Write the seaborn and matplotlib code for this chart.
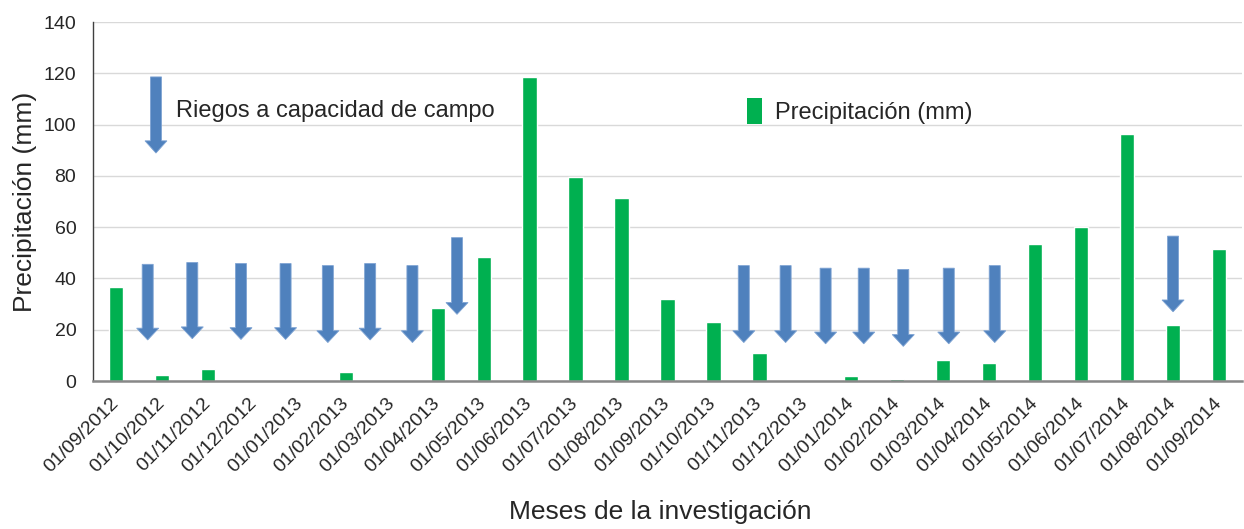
import numpy as np
import pandas as pd
import matplotlib
matplotlib.use("Agg")
import matplotlib.pyplot as plt
from matplotlib.patches import FancyArrow, Rectangle
import seaborn as sns

# ---------------- data ----------------
meses = ["01/09/2012", "01/10/2012", "01/11/2012", "01/12/2012", "01/01/2013",
         "01/02/2013", "01/03/2013", "01/04/2013", "01/05/2013", "01/06/2013",
         "01/07/2013", "01/08/2013", "01/09/2013", "01/10/2013", "01/11/2013",
         "01/12/2013", "01/01/2014", "01/02/2014", "01/03/2014", "01/04/2014",
         "01/05/2014", "01/06/2014", "01/07/2014", "01/08/2014", "01/09/2014"]
precipitacion = [36.6, 2.3, 4.7, 0.0, 0.0,
                 3.6, 0.0, 28.5, 48.3, 118.5,
                 79.5, 71.3, 32.0, 23.2, 10.8,
                 0.0, 2.0, 0.6, 8.2, 7.0,
                 53.4, 60.0, 96.3, 21.8, 51.5]

# irrigation events (position on the month axis, start and end level in mm)
riego_pos = [0.69, 1.66, 2.72, 3.69, 4.61, 5.53, 6.45, 7.42,
             13.66, 14.57, 15.44, 16.27, 17.13, 18.12, 19.12, 23.0]
riego_inicio = [45.5, 46.2, 45.8, 45.8, 45.0, 45.8, 45.0, 55.9,
                45.0, 45.0, 44.0, 44.0, 43.5, 44.0, 45.0, 56.5]
riego_fin = [16.0, 16.5, 16.2, 16.2, 15.0, 16.0, 15.0, 26.0,
             15.0, 15.0, 14.5, 14.5, 13.5, 14.5, 15.0, 27.0]

y_ticks = [0, 20, 40, 60, 80, 100, 120, 140]

# ---------------- style ----------------
sns.set_style("white")
plt.rcParams["font.family"] = ["Liberation Sans", "DejaVu Sans"]

GREEN = "#00b050"
BLUE = "#4f81bd"

W, H = 1244, 529
fig = plt.figure(figsize=(W / 100, H / 100), dpi=100)
ax = fig.add_axes([93 / W, 1 - 381 / H, 1149 / W, 359 / H])

df = pd.DataFrame({"mes": meses, "precip": precipitacion})
sns.barplot(data=df, x="mes", y="precip", color=GREEN, saturation=1,
            width=0.31, errorbar=None, ax=ax, zorder=2)

ax.set_xlim(-0.5, len(meses) - 0.5)
ax.set_ylim(0, 140)
ax.set_yticks(y_ticks)
ax.yaxis.grid(True, color="#d9d9d9", lw=1)
ax.set_axisbelow(True)

# category boundary ticks (Excel style)
ax.set_xticks(np.arange(-0.5, len(meses), 1), minor=True)
ax.tick_params(axis="x", which="minor", length=5, width=1.2, color="#808080", direction="out")
ax.tick_params(axis="x", which="major", length=0, pad=14, labelsize=14)
ax.set_xticks(range(len(meses)))
ax.set_xticklabels(meses, rotation=45, ha="right", va="center", rotation_mode="anchor")
ax.tick_params(axis="y", length=0, pad=12, labelsize=14)

for s in ["top", "right"]:
    ax.spines[s].set_visible(False)
ax.spines["left"].set_color("#404040")
ax.spines["left"].set_linewidth(1)
ax.spines["bottom"].set_color("#888888")
ax.spines["bottom"].set_linewidth(1.8)

ax.set_ylabel("Precipitación (mm)", fontsize=19, labelpad=5)
ax.set_xlabel("")
fig.text(660 / W, 1 - 519 / H, "Meses de la investigación", fontsize=19,
         ha="center", va="baseline")

# irrigation arrows
for x, top, tip in zip(riego_pos, riego_inicio, riego_fin):
    ax.add_patch(FancyArrow(x, top, 0, tip - top, width=0.24, head_width=0.48,
                            head_length=4.6, length_includes_head=True,
                            facecolor=BLUE, edgecolor="#7ea3d3", lw=0.6, zorder=3))

# annotation legend
ax.add_patch(FancyArrow(0.0548, 0.847, 0, 0.635 - 0.847, width=0.0096,
                        head_width=0.0191, head_length=0.034,
                        length_includes_head=True, transform=ax.transAxes,
                        facecolor=BLUE, edgecolor="#7ea3d3", lw=0.6, zorder=3))
ax.text(0.0722, 0.735, "Riegos a capacidad de campo", transform=ax.transAxes,
        fontsize=17, ha="left", va="baseline")
ax.add_patch(Rectangle((0.569, 0.716), 0.013, 0.072, transform=ax.transAxes,
                       facecolor=GREEN, edgecolor="none", zorder=3))
ax.text(0.5936, 0.730, "Precipitación (mm)", transform=ax.transAxes,
        fontsize=17, ha="left", va="baseline")

fig.savefig("out.png", dpi=100)
